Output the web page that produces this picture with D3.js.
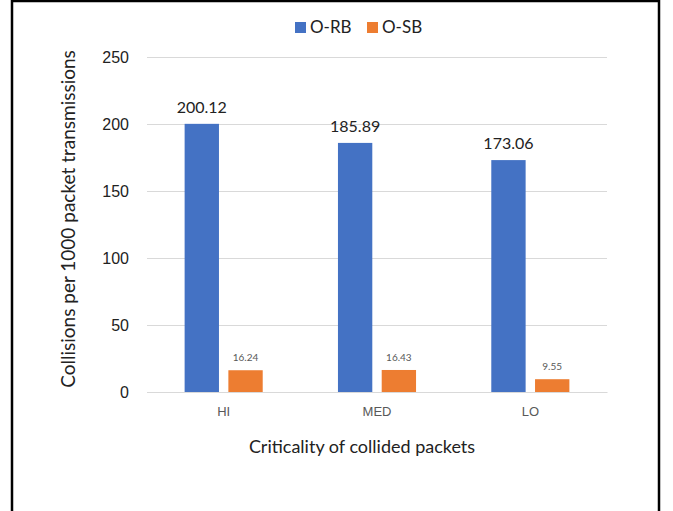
<!DOCTYPE html>
<html><head><meta charset="utf-8">
<script src="https://cdn.jsdelivr.net/npm/d3@7"></script>
<style>body{margin:0;background:#fff;}svg{display:block;font-family:Lato,"Open Sans",sans-serif;}</style>
</head><body>
<svg id="c" width="673" height="511"></svg>
<script>
const categories = ["HI", "MED", "LO"];
const seriesNames = ["O-RB", "O-SB"];
const oRB = [200.12, 185.89, 173.06];
const oSB = [16.24, 16.43, 9.55];
const yTicks = [0, 50, 100, 150, 200, 250];
const colors = ["#4472C4", "#ED7D31"];

const svg = d3.select("#c");
// outer border
svg.append("rect").attr("x", 12).attr("y", 1).attr("width", 647).attr("height", 530)
  .attr("fill", "none").attr("stroke", "#000").attr("stroke-width", 2.5);

const m = {l: 147, r: 607, t: 57, b: 392};
const x = d3.scaleBand().domain(categories).range([m.l, m.r]).paddingInner(0).paddingOuter(0);
const y = d3.scaleLinear().domain([0, 250]).range([m.b, m.t]);
const xs = d3.scaleBand().domain(seriesNames).range([0, x.bandwidth()]).paddingInner(0.215).paddingOuter(0.86);

// gridlines
const ya = d3.axisLeft(y).tickValues(yTicks).tickSize(-(m.r - m.l)).tickPadding(18);
const gy = svg.append("g").attr("transform", `translate(${m.l},0)`).call(ya);
gy.select(".domain").remove();
gy.selectAll(".tick line").attr("stroke", "#d9d9d9").attr("stroke-width", 1);
gy.selectAll(".tick text").attr("font-size", 16).attr("fill", "#222");

const xa = d3.axisBottom(x).tickSize(0).tickPadding(15);
const gx = svg.append("g").attr("transform", `translate(0,${m.b})`).call(xa);
gx.select(".domain").attr("stroke", "#d9d9d9");
gx.selectAll(".tick text").attr("font-size", 13).attr("fill", "#595959");

const data = categories.map((c, i) => ({c, vals: [oRB[i], oSB[i]]}));
const groups = svg.append("g").selectAll("g").data(data).join("g")
  .attr("transform", d => `translate(${x(d.c)},0)`);
groups.selectAll("rect").data(d => d.vals.map((v, j) => ({v, s: seriesNames[j], j})))
  .join("rect")
  .attr("x", d => xs(d.s)).attr("width", xs.bandwidth())
  .attr("y", d => y(d.v)).attr("height", d => y(0) - y(d.v))
  .attr("fill", d => colors[d.j]);
groups.selectAll("text.lbl").data(d => d.vals.map((v, j) => ({v, s: seriesNames[j], j})))
  .join("text").attr("class", "lbl")
  .attr("x", d => xs(d.s) + xs.bandwidth() / 2)
  .attr("y", d => y(d.v) - (d.j === 0 ? 11 : 9))
  .attr("text-anchor", "middle")
  .attr("font-size", d => d.j === 0 ? 16 : 10)
  .attr("fill", d => d.j === 0 ? "#222" : "#595959")
  .text(d => d.v.toFixed(2));

// axis titles
svg.append("text").attr("x", 362).attr("y", 453).attr("text-anchor", "middle")
  .attr("font-size", 18).attr("fill", "#222").text("Criticality of collided packets");
svg.append("text").attr("transform", "translate(75,219) rotate(-90)").attr("text-anchor", "middle")
  .attr("font-size", 19).attr("fill", "#222").text("Collisions per 1000 packet transmissions");

// legend
const lg = svg.append("g");
const lx = [295, 367];
seriesNames.forEach((s, i) => {
  lg.append("rect").attr("x", lx[i]).attr("y", 22).attr("width", 11).attr("height", 11).attr("fill", colors[i]);
  lg.append("text").attr("x", lx[i] + 15).attr("y", 32.5).attr("font-size", 17).attr("fill", "#222").text(s);
});
</script>
</body></html>
